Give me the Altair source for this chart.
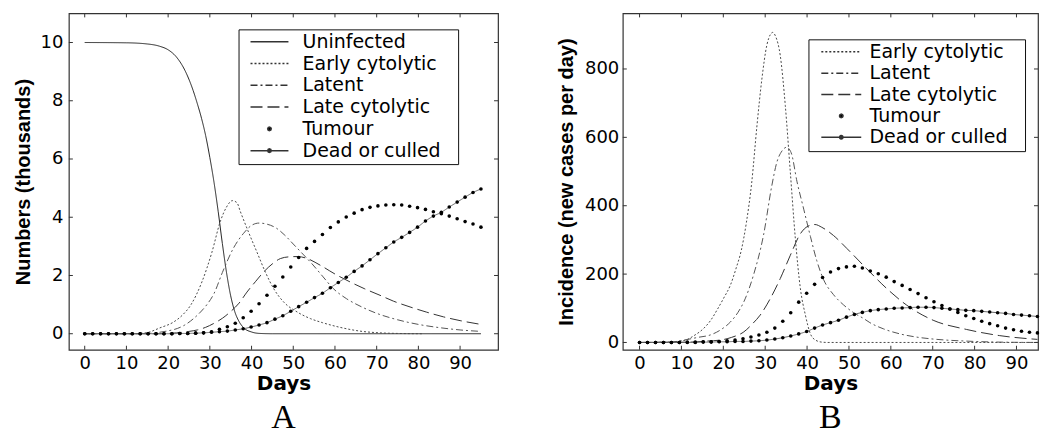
import altair as alt
import pandas as pd

# ---------------- data ----------------
DOT_DAYS = [0, 1.9, 3.8, 5.7, 7.6, 9.5, 11.4, 13.3, 15.2, 17.1, 19, 20.9, 22.8, 24.7, 26.6,
            28.5, 30.4, 32.3, 34.2, 36.1, 38, 39.9, 41.8, 43.7, 45.6, 47.5, 49.4, 51.3, 53.2,
            55.1, 57, 58.9, 60.8, 62.7, 64.6, 66.5, 68.4, 70.3, 72.2, 74.1, 76, 77.9, 79.8,
            81.7, 83.6, 85.5, 87.4, 89.3, 91.2, 93.1, 95]

# Panel A: numbers (thousands)
A_TUMOUR = [0, 0, 0, 0, 0, 0, 0, 0, 0, 0, 0,
            0.0, 0.01, 0.01, 0.02, 0.03, 0.07, 0.15, 0.24, 0.36, 0.55, 0.77, 1.03, 1.32, 1.63,
            1.95, 2.29, 2.62, 2.93, 3.17, 3.41, 3.65, 3.84, 4.01, 4.14, 4.26, 4.34, 4.39, 4.42,
            4.43, 4.42, 4.38, 4.33, 4.27, 4.19, 4.12, 4.04, 3.95, 3.85, 3.77, 3.66]
A_DEAD = [0, 0, 0, 0, 0, 0, 0, 0, 0, 0, 0,
          0.0, 0.01, 0.01, 0.02, 0.03, 0.05, 0.07, 0.09, 0.13, 0.17, 0.23, 0.30, 0.38, 0.50,
          0.62, 0.77, 0.93, 1.08, 1.24, 1.39, 1.58, 1.76, 1.94, 2.14, 2.33, 2.54, 2.75, 2.95,
          3.15, 3.31, 3.48, 3.66, 3.87, 4.04, 4.17, 4.35, 4.52, 4.69, 4.85, 4.97]
A_UNINF_DAYS = [0, 10, 15, 18, 20, 22, 24, 26, 27, 28, 29, 30, 31, 32, 33, 34, 35, 36, 37, 38,
                40, 42, 45, 95]
A_UNINF = [10, 9.99, 9.95, 9.87, 9.75, 9.5, 9.05, 8.35, 7.9, 7.4, 6.8, 6.05, 5.2, 4.2, 3.1,
           2.1, 1.3, 0.75, 0.42, 0.22, 0.06, 0.01, 0, 0]
A_EARLY_DAYS = [0, 12, 15, 18, 21.4, 23.5, 25.4, 28.1, 30.5, 32.5, 34, 35.4, 36.5, 37.3, 39.3,
                41.3, 43.3, 45.3, 47.7, 50.9, 54.1, 57, 61.2, 66, 70.8, 75, 81]
A_EARLY = [0, 0, 0.04, 0.2, 0.41, 0.65, 0.98, 1.78, 2.8, 3.85, 4.35, 4.57, 4.5, 4.2, 3.48, 2.8,
           2.12, 1.55, 1.09, 0.75, 0.52, 0.38, 0.22, 0.09, 0.03, 0.01, 0]
A_LATENT_DAYS = [0, 14, 17.4, 20, 22.2, 24, 26.1, 28, 29.3, 31, 33, 35.7, 38.1, 40, 41.8, 43.5,
                 46, 48, 50, 52, 54.5, 57, 59.6, 62.8, 66, 70, 75, 80, 85, 90, 95]
A_LATENT = [0, 0, 0.04, 0.1, 0.18, 0.3, 0.52, 0.78, 1.0, 1.38, 2.1, 2.95, 3.45, 3.72, 3.8, 3.77,
            3.62, 3.38, 3.08, 2.78, 2.4, 1.98, 1.55, 1.2, 0.95, 0.7, 0.48, 0.32, 0.21, 0.13, 0.08]
A_LATE_DAYS = [0, 18, 22, 25, 27, 29, 30.9, 33, 34.9, 37, 38.9, 41, 42.9, 45, 46.9, 49, 51.1,
               53, 56.5, 60, 63.6, 67, 70.8, 74, 78, 82, 86, 90, 95]
A_LATE = [0, 0, 0.03, 0.08, 0.13, 0.22, 0.35, 0.53, 0.75, 1.05, 1.43, 1.8, 2.12, 2.4, 2.58,
          2.64, 2.65, 2.6, 2.35, 2.05, 1.78, 1.55, 1.32, 1.12, 0.92, 0.74, 0.58, 0.45, 0.32]

# Panel B: incidence (new cases per day)
B_TUMOUR = [0, 0, 0, 0, 0, 0, 1, 1, 2, 2, 3,
            5, 7, 11, 16, 22, 30, 42, 62, 87, 118, 144, 170, 190, 206, 216, 221, 223, 218, 209,
            201, 191, 178, 167, 155, 143, 131, 119, 108, 98, 88, 78, 70, 62, 55, 49, 42, 37, 33,
            30, 28]
B_DEAD = [0, 0, 0, 0, 0, 0, 0, 0,
          1, 1, 2, 2, 3, 3, 4, 5, 7, 10, 14, 19, 25, 32, 42, 51, 58, 65, 74, 82, 88, 93, 96, 98,
          100, 101, 102, 103, 103, 102, 100, 98, 96, 94, 93, 91, 89, 87, 85, 82, 80, 78, 76]
B_EARLY_DAYS = [0, 8, 11, 13, 15.3, 17, 18.5, 20.1, 21.7, 23, 24.3, 25.5, 26.8, 28, 29.2, 30.4,
                31.2, 31.8, 32.5, 33.6, 34.8, 36, 37.2, 38.4, 39.6, 40.8, 42, 43.5, 45, 95]
B_EARLY = [0, 2, 7, 20, 41, 65, 95, 130, 168, 215, 270, 350, 470, 630, 770, 870, 900, 907, 895,
           839, 693, 498, 304, 158, 80, 25, 7, 1, 0, 0]
B_LATENT_DAYS = [0, 8, 10.6, 14, 16.9, 19.5, 21.7, 23.5, 24.9, 27.2, 29.6, 31.6, 32.8, 34, 35.1,
                 36.2, 37.6, 39.2, 40.8, 42.3, 43.9, 46.3, 48.7, 51, 53.5, 55, 58.2, 62.2, 66,
                 70.1, 78, 86, 95]
B_LATENT = [0, 2, 7, 15, 22, 38, 60, 88, 119, 197, 314, 460, 528, 560, 571, 555, 470, 390, 310,
            240, 185, 140, 110, 88, 70, 58, 40, 25, 16, 10, 4, 1, 0]
B_LATE_DAYS = [0, 12, 16, 19.3, 22, 24.9, 27, 28.8, 31.2, 33.6, 36, 38.4, 40.2, 41.9, 43.5, 46.3,
               49.5, 54.2, 59, 63.8, 70.1, 78.1, 86, 95]
B_LATE = [0, 1, 4, 7, 15, 31, 55, 80, 128, 187, 255, 318, 340, 345, 337, 313, 275, 216, 158, 109,
          65, 38, 20, 9]

X_TICKS = [0, 10, 20, 30, 40, 50, 60, 70, 80, 90]
A_Y_TICKS = [0, 2, 4, 6, 8, 10]
B_Y_TICKS = [0, 200, 400, 600, 800]
A_NAMES = ["Uninfected", "Early cytolytic", "Latent", "Late cytolytic", "Tumour", "Dead or culled"]
B_NAMES = ["Early cytolytic", "Latent", "Late cytolytic", "Tumour", "Dead or culled"]

# ---------------- styles ----------------
STYLE = {
    "Uninfected": ("#1e1e1e", [1, 0]),
    "Early cytolytic": ("#4a4a4a", [2, 2]),
    "Latent": ("#555555", [7, 3, 2, 3]),
    "Late cytolytic": ("#333333", [12, 5]),
    "Tumour": ("#000000", [1, 0]),
    "Dead or culled": ("#666666", [1, 0]),
}
TICK_PX = 4
SYM_SIZE = 64  # legend symbol size -> 1 path unit = 4 px
DOT = "M0.45,0L0.318,0.318L0,0.45L-0.318,0.318L-0.45,0L-0.318,-0.318L0,-0.45L0.318,-0.318Z"
BLANK = "\u2800"  # blank (non-whitespace) padding after legend labels


def line_path(half):
    return "M-%s,0H%s" % (half, half)


def frame(days, vals):
    return pd.DataFrame({"day": days, "value": vals})


def panel(W, H, xdom, ydom, yticks, ytitle, lines, dots, names, leg_x, leg_y, row_pad,
          half, sym_off, lab_off, lab_pad, ttl_pad, letter):
    xaxis = alt.Axis(values=X_TICKS, title="Days")
    yaxis = alt.Axis(values=yticks, title=ytitle, labelPadding=lab_pad, titlePadding=ttl_pad)
    xs = alt.Scale(domain=xdom, nice=False, zero=False)
    ys = alt.Scale(domain=ydom, nice=False, zero=False)
    X = alt.X("day:Q", scale=xs, axis=xaxis)
    Y = alt.Y("value:Q", scale=ys, axis=yaxis)

    layers = []
    for name, days, vals in lines:
        col, dash = STYLE[name]
        layers.append(
            alt.Chart(frame(days, vals)).mark_line(
                interpolate="monotone", strokeWidth=1, color=col, strokeDash=dash
            ).encode(x=X, y=Y)
        )
    for days, vals in dots:
        layers.append(
            alt.Chart(frame(days, vals)).mark_circle(size=13, color="black", opacity=1)
            .encode(x=X, y=Y)
        )

    # inward frame ticks (MATLAB style)
    xl = TICK_PX * (xdom[1] - xdom[0]) / W
    yl = TICK_PX * (ydom[1] - ydom[0]) / H
    xt = pd.DataFrame({"day": X_TICKS})
    yt = pd.DataFrame({"value": yticks})
    rk = dict(color="#333333", strokeWidth=1)
    layers += [
        alt.Chart(xt).mark_rule(**rk).encode(
            x=X, y=alt.YDatum(ydom[0], scale=ys, axis=yaxis), y2=alt.datum(ydom[0] + yl)),
        alt.Chart(xt).mark_rule(**rk).encode(
            x=X, y=alt.YDatum(ydom[1], scale=ys, axis=yaxis), y2=alt.datum(ydom[1] - yl)),
        alt.Chart(yt).mark_rule(**rk).encode(
            y=Y, x=alt.XDatum(xdom[0], scale=xs, axis=xaxis), x2=alt.datum(xdom[0] + xl)),
        alt.Chart(yt).mark_rule(**rk).encode(
            y=Y, x=alt.XDatum(xdom[1], scale=xs, axis=xaxis), x2=alt.datum(xdom[1] - xl)),
    ]

    # legend-only layer (draws no marks)
    shapes = []
    for n in names:
        if n == "Tumour":
            shapes.append(DOT)
        elif n == "Dead or culled":
            shapes.append(line_path(half) + DOT)
        else:
            shapes.append(line_path(half))
    dashes = [STYLE[n][1] for n in names]
    leg = alt.Legend(
        title=None, orient="none", legendX=leg_x, legendY=leg_y, padding=3,
        strokeColor="#111111", fillColor="white", symbolSize=SYM_SIZE,
        symbolOffset=sym_off, labelOffset=lab_off, rowPadding=row_pad,
        labelFont="DejaVu Sans", labelFontSize=19, labelColor="black", labelLimit=400,
        labelExpr="datum.label + '" + BLANK + "'",
    )
    layers.append(
        alt.Chart(pd.DataFrame({"entry": names})).transform_filter("false").mark_point(
            filled=True, fill="black", stroke="#333333", strokeWidth=1, size=SYM_SIZE, opacity=1
        ).encode(
            shape=alt.Shape("entry:N", scale=alt.Scale(domain=names, range=shapes), legend=leg),
            strokeDash=alt.StrokeDash("entry:N", scale=alt.Scale(domain=names, range=dashes),
                                      legend=leg),
        )
    )

    return alt.layer(*layers).properties(
        width=W, height=H,
        title=alt.TitleParams(letter, orient="bottom", font="Liberation Serif", fontSize=34,
                              fontWeight="normal", color="black", anchor="middle",
                              frame="group", offset=7),
    )


chart_a = panel(
    430, 337, [-3.8, 99.1], [-0.55, 11], A_Y_TICKS, "Numbers (thousands)",
    [("Uninfected", A_UNINF_DAYS, A_UNINF), ("Early cytolytic", A_EARLY_DAYS, A_EARLY),
     ("Latent", A_LATENT_DAYS, A_LATENT), ("Late cytolytic", A_LATE_DAYS, A_LATE),
     ("Dead or culled", DOT_DAYS, A_DEAD)],
    [(DOT_DAYS, A_TUMOUR), (DOT_DAYS, A_DEAD)],
    A_NAMES, 170, 16, 1.8, 4.75, 18.5, 23.7, 6, 7, "A",
)
chart_b = panel(
    416, 337, [-4, 95.14], [-21.3, 962.6], B_Y_TICKS, "Incidence (new cases per day)",
    [("Early cytolytic", B_EARLY_DAYS, B_EARLY), ("Latent", B_LATENT_DAYS, B_LATENT),
     ("Late cytolytic", B_LATE_DAYS, B_LATE), ("Dead or culled", DOT_DAYS, B_DEAD)],
    [(DOT_DAYS, B_TUMOUR), (DOT_DAYS, B_DEAD)],
    B_NAMES, 186, 26, 1.4, 5, 20.4, 18.8, 4, 8, "B",
)

chart = alt.hconcat(chart_a, chart_b, spacing=125, bounds="flush").resolve_scale(
    shape="independent", strokeDash="independent"
).resolve_legend(
    shape="independent", strokeDash="independent"
).properties(
    padding={"left": 12, "top": 11, "right": 0, "bottom": 0},
    background="white",
).configure_view(
    stroke="#333333", strokeWidth=1.2
).configure_axis(
    domain=False, ticks=False, grid=False,
    labelFont="DejaVu Sans", labelFontSize=18, labelColor="black",
    titleColor="black", titleFontWeight="bold", titleFontSize=20,
).configure_axisX(
    titleFont="DejaVu Sans", labelPadding=5, titlePadding=1,
).configure_axisY(
    titleFont="Liberation Sans",
)

chart.save("out.html", embed_options={"renderer": "svg", "actions": False})
